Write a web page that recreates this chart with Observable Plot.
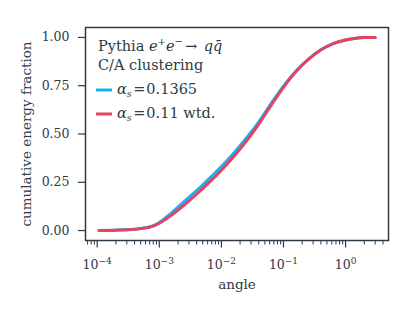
<!DOCTYPE html>
<html>
<head>
<meta charset="utf-8">
<script src="https://cdn.jsdelivr.net/npm/d3@7"></script>
<script src="https://cdn.jsdelivr.net/npm/@observablehq/plot@0.6"></script>
<style>
  html, body { margin: 0; padding: 0; background: #fff; }
  #chart { width: 415px; height: 312px; }
</style>
</head>
<body>
<div id="chart"></div>
<script>
// ---- data ----
const angles = [1.07e-4, 2e-4, 3.2e-4, 5e-4, 8e-4, 1e-3, 1.58e-3, 2.51e-3, 3.98e-3, 6.31e-3, 1e-2, 1.58e-2, 2.51e-2, 3.98e-2, 6.31e-2, 0.1, 0.158, 0.251, 0.398, 0.631, 1.0, 1.58, 2.0, 3.0];
const fracA = [0, 0.002, 0.005, 0.011, 0.026, 0.042, 0.092, 0.150, 0.207, 0.268, 0.332, 0.401, 0.478, 0.562, 0.658, 0.748, 0.825, 0.887, 0.936, 0.968, 0.987, 0.997, 1.0, 1.0];
const fracB = [0, 0.002, 0.004, 0.010, 0.023, 0.038, 0.080, 0.132, 0.188, 0.248, 0.312, 0.383, 0.462, 0.550, 0.648, 0.742, 0.822, 0.886, 0.935, 0.968, 0.987, 0.997, 1.0, 1.0];
const seriesNames = ["αs=0.1365", "αs=0.11 wtd."];
const seriesColors = ["#1bb0f0", "#e5435f"];
const xMajorTicks = [1e-4, 1e-3, 1e-2, 1e-1, 1];
const xTickExponents = ["−4", "−3", "−2", "−1", "0"];
const yTicks = [0, 0.25, 0.5, 0.75, 1.0];
const xMinorTicks = [];
for (const e of [-5, -4, -3, -2, -1, 0]) for (let m = 2; m <= 9; m++) {
  const v = m * Math.pow(10, e);
  if (v > 6.5e-5 && v < 4.9) xMinorTicks.push(v);
}

const ink = "#2e3a46";
const rows = [];
angles.forEach((a, i) => rows.push({angle: a, frac: fracA[i], s: seriesNames[0]}));
angles.forEach((a, i) => rows.push({angle: a, frac: fracB[i], s: seriesNames[1]}));

const chart = Plot.plot({
  width: 415, height: 312,
  marginLeft: 85, marginRight: 27, marginTop: 27, marginBottom: 72,
  style: {fontFamily: "DejaVu Serif", fontSize: "12.5px", color: ink, background: "#fff"},
  x: {type: "log", domain: [6.48e-5, 4.91]},
  y: {domain: [-0.0515, 1.0515]},
  color: {domain: seriesNames, range: seriesColors},
  marks: [
    Plot.axisX({ticks: xMinorTicks, tickSize: 4.5, text: null, label: null, strokeWidth: 1}),
    Plot.axisX({ticks: xMajorTicks, tickSize: 7.5, tickPadding: 12, strokeWidth: 1.2,
      tickFormat: d => "10" + xTickExponents[xMajorTicks.indexOf(d)], label: null}),
    Plot.axisY({ticks: yTicks, tickSize: 7, tickPadding: 9, strokeWidth: 1.2,
      tickFormat: d3.format(".2f"), label: null}),
    Plot.line(rows, {x: "angle", y: "frac", z: "s", stroke: "s", strokeWidth: 3, curve: "monotone-x"}),
    Plot.frame({stroke: ink, strokeWidth: 1.5}),
    Plot.text(["angle"], {text: d => d, frameAnchor: "bottom", dy: 48, lineAnchor: "bottom", fill: ink, fontSize: 13.5}),
    Plot.text(["cumulative energy fraction"], {text: d => d, frameAnchor: "left", rotate: -90, dx: -59, textAnchor: "middle", lineAnchor: "middle", fill: ink, fontSize: 13.5})
  ]
});
document.getElementById("chart").appendChild(chart);

const svg = d3.select(chart);
// render the x tick labels as 10 with a raised exponent
svg.selectAll('g[aria-label="x-axis tick label"] text').each(function() {
  const s = this.textContent;
  const t = d3.select(this);
  t.text(null);
  t.append("tspan").attr("font-size", 12.5).text(s.slice(0, 2));
  t.append("tspan").attr("font-size", 9).attr("dy", -5).text(s.slice(2));
});

// ---- legend / annotation inside the frame ----
const g = svg.append("g").attr("font-family", "DejaVu Serif").attr("font-size", 14.5)
  .attr("fill", ink).attr("text-anchor", "start");
const t1 = g.append("text").attr("x", 98).attr("y", 51);
t1.append("tspan").text("Pythia ");
t1.append("tspan").attr("font-style", "italic").text("e");
t1.append("tspan").attr("font-size", 10).attr("dy", -6).text("+");
t1.append("tspan").attr("font-style", "italic").attr("dy", 6).text("e");
t1.append("tspan").attr("font-size", 10).attr("dy", -6).text("−");
t1.append("tspan").attr("dy", 6).attr("dx", 2).text("→ ");
t1.append("tspan").attr("font-style", "italic").attr("dx", 2).text("qq̄");
g.append("text").attr("x", 98).attr("y", 70).text("C/A clustering");

const legendY = [90, 114];
const legendVal = ["0.1365", "0.11 wtd."];
legendY.forEach((y, i) => {
  g.append("line").attr("x1", 96).attr("x2", 112).attr("y1", y).attr("y2", y)
    .attr("stroke", seriesColors[i]).attr("stroke-width", 3);
  const t = g.append("text").attr("x", 117).attr("y", y + 4);
  t.append("tspan").attr("font-style", "italic").text("α");
  t.append("tspan").attr("font-style", "italic").attr("font-size", 9.5).attr("dy", 3).text("s");
  t.append("tspan").attr("dy", -3).attr("dx", 1.5).text("=");
  t.append("tspan").attr("dx", 1).text(legendVal[i]);
});
</script>
</body>
</html>
